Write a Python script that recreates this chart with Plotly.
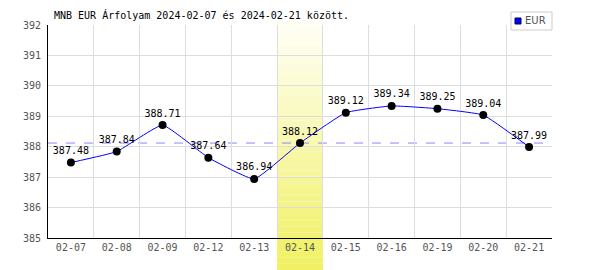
import plotly.graph_objects as go

dates = ["02-07", "02-08", "02-09", "02-12", "02-13", "02-14", "02-15", "02-16", "02-19", "02-20", "02-21"]
rates = [387.48, 387.84, 388.71, 387.64, 386.94, 388.12, 389.12, 389.34, 389.25, 389.04, 387.99]
highlight_index = 5
ref_value = 388.12
y_ticks = [385, 386, 387, 388, 389, 390, 391, 392]

FONT = "DejaVu Sans Mono"
x_pos = [i + 0.5 for i in range(len(dates))]

fig = go.Figure()

fig.add_trace(go.Scatter(
    x=x_pos, y=rates, mode="lines+markers+text",
    line=dict(color="#0000ff", width=1, shape="spline", smoothing=0.35),
    marker=dict(color="#000000", size=8),
    text=[f"{v:.2f}" for v in rates], textposition="top center",
    textfont=dict(family=FONT, size=10, color="#000000"),
    cliponaxis=False, showlegend=False, hoverinfo="skip",
))

shapes = []
def lerp(c1, c2, t):
    return "rgb(%d,%d,%d)" % tuple(round(a + (b - a) * t) for a, b in zip(c1, c2))

top_c = (255, 255, 248)
bot_c = (240, 240, 96)
top_px, bot_px = 21, 270
plot_top, plot_bot = 25, 238
n = 40
for k in range(n):
    p0 = top_px + (bot_px - top_px) * k / n
    p1 = top_px + (bot_px - top_px) * (k + 1) / n
    col = lerp(top_c, bot_c, (k + 0.5) / n)
    y0p = (plot_bot - p1) / (plot_bot - plot_top)
    y1p = (plot_bot - p0) / (plot_bot - plot_top)
    inside0 = max(y0p, 0)
    inside1 = min(y1p, 1)
    if inside1 > inside0:
        shapes.append(dict(type="rect", xref="x", yref="paper",
                           x0=highlight_index, x1=highlight_index + 1,
                           y0=inside0, y1=inside1, fillcolor=col,
                           line=dict(width=0), layer="between"))
    if y0p < 0:
        shapes.append(dict(type="rect", xref="x", yref="paper",
                           x0=highlight_index, x1=highlight_index + 1,
                           y0=y0p, y1=min(y1p, 0), fillcolor=col,
                           line=dict(width=0), layer="below"))
    if y1p > 1:
        shapes.append(dict(type="rect", xref="x", yref="paper",
                           x0=highlight_index, x1=highlight_index + 1,
                           y0=max(y0p, 1), y1=y1p, fillcolor=col,
                           line=dict(width=0), layer="below"))

shapes.append(dict(type="line", xref="paper", yref="y", x0=0, x1=1,
                   y0=ref_value, y1=ref_value,
                   line=dict(color="#8888ff", width=1, dash="dash"), layer="between"))

shapes.append(dict(type="rect", xref="paper", yref="paper",
                   x0=(511 - 48) / 504, x1=(552 - 48) / 504,
                   y0=(238 - 30) / 213, y1=(238 - 12) / 213,
                   fillcolor="#ffffff", line=dict(color="#cccccc", width=1), layer="above"))
shapes.append(dict(type="rect", xref="paper", yref="paper",
                   x0=(515 - 48) / 504, x1=(521 - 48) / 504,
                   y0=(238 - 24) / 213, y1=(238 - 18) / 213,
                   fillcolor="#0000ff", line=dict(color="#000066", width=1), layer="above"))

fig.update_layout(
    width=600, height=270,
    margin=dict(l=48, r=48, t=25, b=32),
    paper_bgcolor="#ffffff", plot_bgcolor="#ffffff",
    shapes=shapes,
    font=dict(family=FONT, size=10, color="#555555"),
    annotations=[
        dict(text="MNB EUR Árfolyam 2024-02-07 és 2024-02-21 között.",
             xref="paper", yref="paper", x=(52 - 48) / 504, y=(238 - 15) / 213,
             xanchor="left", yanchor="middle", showarrow=False,
             font=dict(family=FONT, size=10, color="#000000")),
        dict(text="EUR", xref="paper", yref="paper",
             x=(523 - 48) / 504, y=(238 - 21) / 213,
             xanchor="left", yanchor="middle", showarrow=False,
             font=dict(family="DejaVu Sans", size=10, color="#555555")),
    ],
    xaxis=dict(range=[0, len(dates)], tickvals=x_pos, ticktext=dates,
               showgrid=False, zeroline=False, showline=True, linecolor="#000000",
               linewidth=1, ticks="", fixedrange=True,
               minor=dict(tick0=0, dtick=1, showgrid=True, gridcolor="#dddddd", gridwidth=1)),
    yaxis=dict(range=[385, 392], tickvals=y_ticks, showgrid=True, gridcolor="#dddddd",
               zeroline=False, showline=True, linecolor="#000000", linewidth=1,
               ticks="", ticklabelstandoff=4, fixedrange=True),
    showlegend=False,
)

fig.write_html("out.html")
